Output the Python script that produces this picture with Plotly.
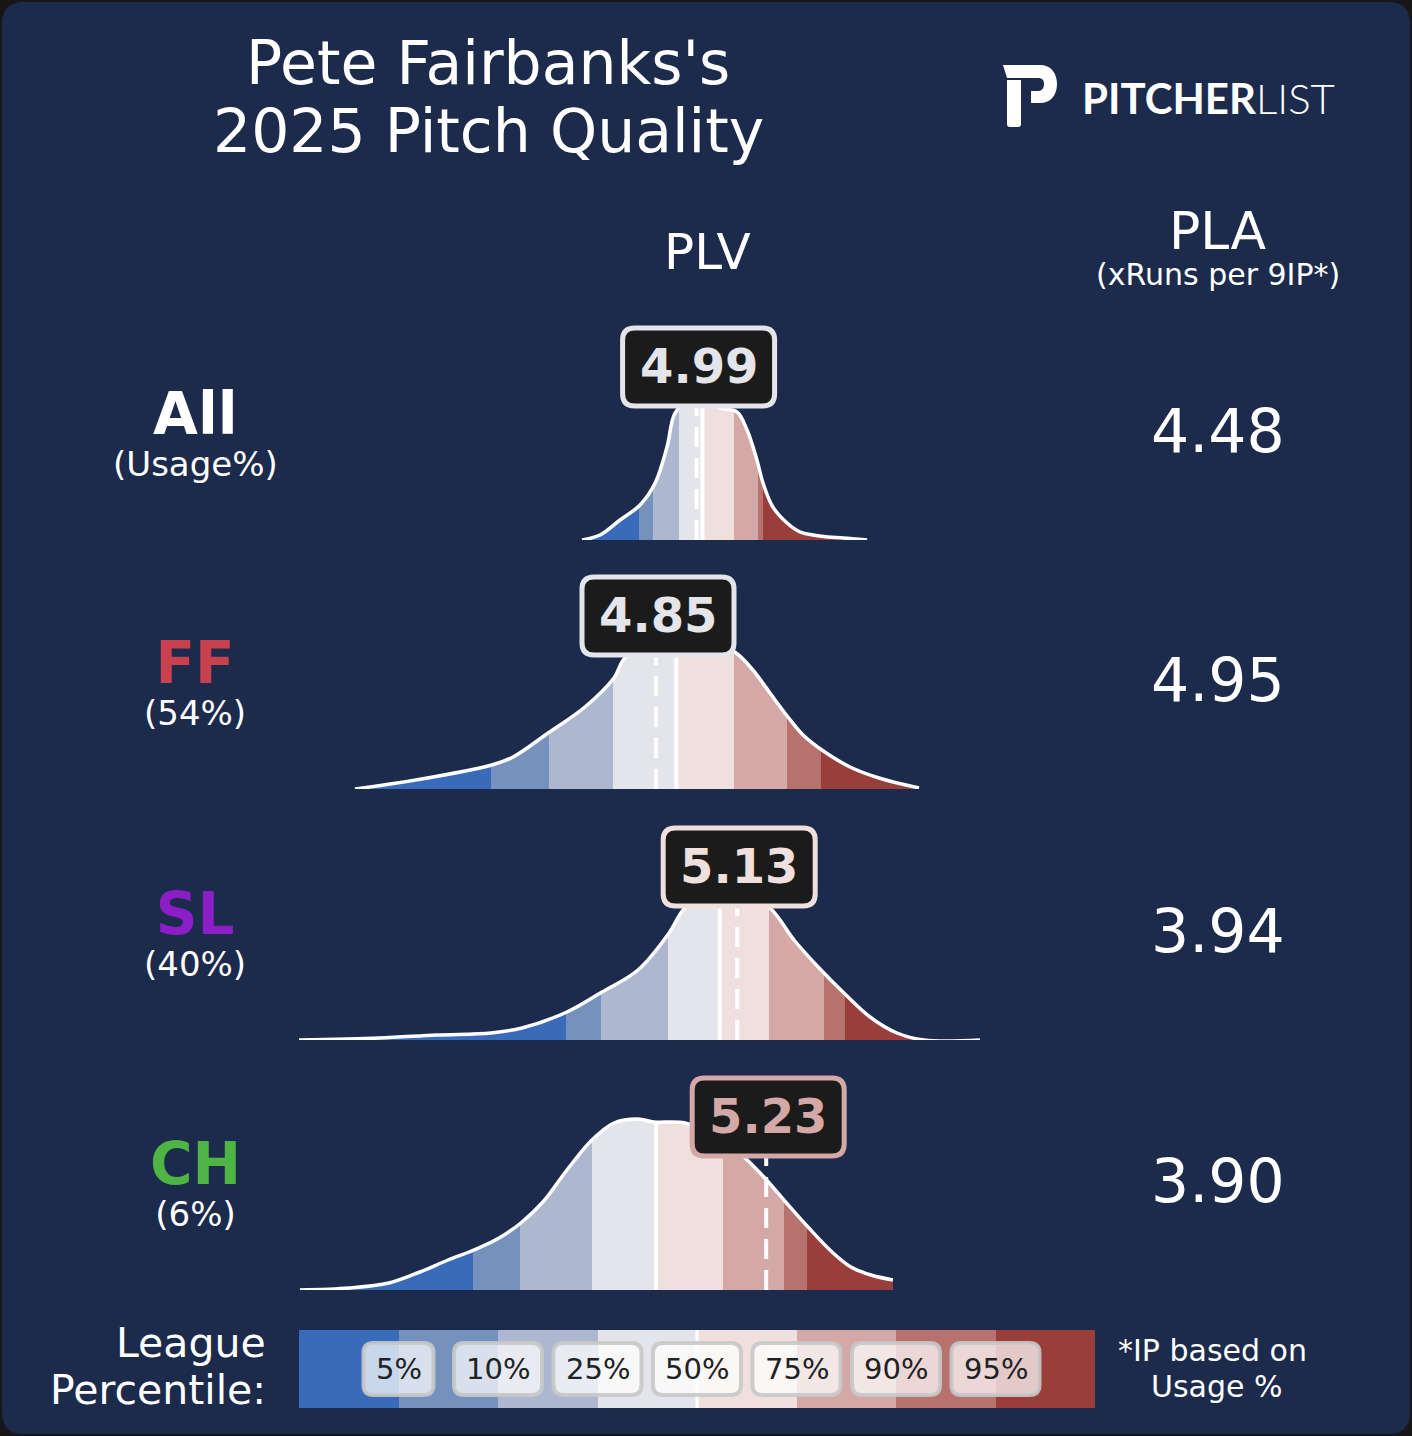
import re

import numpy as np
import plotly.graph_objects as go

W, H = 1412, 1436
BG = "#1c2a4c"
OUTER = "#171717"

# ---- data ----
pitches = ["All", "FF", "SL", "CH"]
usage = ["(Usage%)", "(54%)", "(40%)", "(6%)"]
pitch_colors = ["#ffffff", "#c9404f", "#8c1ec8", "#4eb544"]
plv = [4.99, 4.85, 5.13, 5.23]
pla = [4.48, 4.95, 3.94, 3.90]

pct_labels = ["5%", "10%", "25%", "50%", "75%", "90%", "95%"]
# league PLV percentiles (5, 10, 25, 50, 75, 90, 95) per pitch type
league_all = [4.79, 4.84, 4.93, 5.01, 5.12, 5.20, 5.22]
league_ff = [4.28, 4.48, 4.70, 4.92, 5.12, 5.30, 5.42]
league_sl = [4.54, 4.66, 4.89, 5.07, 5.24, 5.43, 5.50]
league_ch = [4.22, 4.38, 4.63, 4.85, 5.08, 5.29, 5.37]

# pitch-level PLV density curves
kde_x_all = [4.595, 4.657, 4.726, 4.795, 4.847, 4.888, 4.916, 4.967, 5.019, 5.071, 5.129,
             5.164, 5.198, 5.219, 5.253, 5.302, 5.347, 5.391, 5.443, 5.495, 5.578]
kde_y_all = [0.00, 0.05, 0.20, 0.35, 0.57, 0.93, 1.27, 1.40, 1.39, 1.32, 1.28,
             1.10, 0.80, 0.57, 0.33, 0.17, 0.08, 0.05, 0.03, 0.02, 0.00]

kde_x_ff = [3.812, 4.022, 4.284, 4.357, 4.478, 4.605, 4.705, 4.743, 4.850, 4.933,
            5.036, 5.126, 5.184, 5.243, 5.305, 5.357, 5.422, 5.519, 5.619, 5.757]
kde_y_ff = [0.00, 0.09, 0.24, 0.32, 0.56, 0.82, 1.11, 1.31, 1.47, 1.52,
            1.48, 1.36, 1.19, 0.96, 0.72, 0.54, 0.39, 0.22, 0.11, 0.01]

kde_x_sl = [3.619, 3.895, 4.095, 4.281, 4.388, 4.543, 4.664, 4.788, 4.895, 4.943,
            5.020, 5.120, 5.243, 5.326, 5.419, 5.498, 5.588, 5.681, 5.774, 5.967]
kde_y_sl = [0.00, 0.02, 0.05, 0.07, 0.12, 0.28, 0.48, 0.70, 1.07, 1.30,
            1.50, 1.52, 1.32, 1.00, 0.70, 0.47, 0.23, 0.07, 0.00, 0.00]

kde_x_ch = [3.622, 3.791, 3.929, 4.036, 4.133, 4.222, 4.309, 4.384, 4.460, 4.543, 4.629, 4.705,
            4.788, 4.843, 4.950, 5.071, 5.157, 5.222, 5.291, 5.374, 5.457, 5.522, 5.591, 5.667]
kde_y_ch = [0.00, 0.02, 0.07, 0.18, 0.30, 0.40, 0.52, 0.67, 0.88, 1.20, 1.50, 1.67,
            1.71, 1.68, 1.67, 1.52, 1.32, 1.13, 0.90, 0.63, 0.38, 0.23, 0.15, 0.10]

band_colors = ["#3a6bbb", "#7591bd", "#adb8d0", "#e4e5ea",
               "#f0e0dd", "#d3a8a6", "#b7726e", "#9a3e3c"]

leagues = [league_all, league_ff, league_sl, league_ch]
kdes = [(kde_x_all, kde_y_all), (kde_x_ff, kde_y_ff), (kde_x_sl, kde_y_sl), (kde_x_ch, kde_y_ch)]

# ---- layout constants (pixels) ----
baselines = [540, 789, 1040, 1290]
ROW_H = 240
YTOP = 2.4
LABEL_Y = 1.34
XDOM = (280, 1010)
PX_PER_UNIT = 290
REF_PX, REF_VAL = 656, 4.85
x_lo = REF_VAL - (REF_PX - XDOM[0]) / PX_PER_UNIT
x_hi = REF_VAL + (XDOM[1] - REF_PX) / PX_PER_UNIT
MASK_PAD = 0.03


def rrect(x0, y0, x1, y1, r):
    return (f"M{x0+r},{y0} L{x1-r},{y0} Q{x1},{y0} {x1},{y0+r} L{x1},{y1-r} "
            f"Q{x1},{y1} {x1-r},{y1} L{x0+r},{y1} Q{x0},{y1} {x0},{y1-r} "
            f"L{x0},{y0+r} Q{x0},{y0} {x0+r},{y0} Z")


def img_path(p):
    # image pixel coords (y down) -> pixel offsets from top-left (y up)
    return re.sub(r"(-?\d+(?:\.\d+)?),(-?\d+(?:\.\d+)?)",
                  lambda m: f"{m.group(1)},{-float(m.group(2)):g}", p)


def note(x, y, text, size, color="white", bold=False, xanchor="center", family="DejaVu Sans"):
    return dict(x=x / W, y=1 - y / H, xref="paper", yref="paper",
                text=f"<b>{text}</b>" if bold else text, showarrow=False,
                xanchor=xanchor, yanchor="middle",
                font=dict(family=family, size=size, color=color))


fig = go.Figure()
shapes = []
annotations = []
layout_axes = {}

for i, (league, (kx, ky)) in enumerate(zip(leagues, kdes)):
    k = i + 1
    xa = "x" if k == 1 else f"x{k}"
    ya = "y" if k == 1 else f"y{k}"
    base = baselines[i]
    layout_axes["xaxis" if k == 1 else f"xaxis{k}"] = dict(
        domain=[XDOM[0] / W, XDOM[1] / W], range=[x_lo, x_hi], anchor=ya, visible=False, fixedrange=True)
    layout_axes["yaxis" if k == 1 else f"yaxis{k}"] = dict(
        domain=[1 - base / H, 1 - (base - ROW_H) / H], range=[0, YTOP], anchor=xa, visible=False, fixedrange=True)

    edges = np.array([kx[0]] + league + [kx[-1]])
    fig.add_trace(go.Bar(x=(edges[:-1] + edges[1:]) / 2, y=[YTOP] * 8, width=np.diff(edges),
                         marker=dict(color=band_colors, line=dict(width=0)),
                         xaxis=xa, yaxis=ya, hoverinfo="skip", showlegend=False))
    # league median
    fig.add_trace(go.Scatter(x=[league[3], league[3]], y=[0, YTOP], mode="lines",
                             line=dict(color="white", width=4), xaxis=xa, yaxis=ya,
                             hoverinfo="skip", showlegend=False))
    # mask above the density curve
    fig.add_trace(go.Scatter(x=[kx[0] - MASK_PAD, kx[-1] + MASK_PAD], y=[YTOP, YTOP], mode="lines",
                             line=dict(width=0), xaxis=xa, yaxis=ya,
                             hoverinfo="skip", showlegend=False))
    fig.add_trace(go.Scatter(x=kx, y=ky, mode="lines", fill="tonexty", fillcolor=BG,
                             line=dict(color="white", width=3.5, shape="spline", smoothing=1),
                             xaxis=xa, yaxis=ya, hoverinfo="skip", showlegend=False))
    # pitcher PLV
    fig.add_trace(go.Scatter(x=[plv[i], plv[i]], y=[0, LABEL_Y + 0.2], mode="lines",
                             line=dict(color="white", width=4, dash="20px,11px"),
                             xaxis=xa, yaxis=ya, hoverinfo="skip", showlegend=False))

    c = band_colors[int(np.searchsorted(league, plv[i]))]
    shapes.append(dict(type="path", xref=xa, yref=ya, xsizemode="pixel", ysizemode="pixel",
                       xanchor=plv[i], yanchor=LABEL_Y, path=rrect(-74, 0, 78, 78, 12),
                       fillcolor="#1b1b1b", line=dict(color=c, width=5), layer="above"))
    annotations.append(dict(x=plv[i], y=LABEL_Y, xref=xa, yref=ya, yshift=40, xshift=2,
                            text=f"<b>{plv[i]:.2f}</b>", showarrow=False, yanchor="middle",
                            font=dict(family="DejaVu Sans", size=48, color=c)))

    # row labels and PLA
    cy = base - 129
    annotations.append(dict(
        x=195 / W, y=1 - (cy + 21) / H, xref="paper", yref="paper", showarrow=False,
        xanchor="center", yanchor="middle",
        text=(f"<span style='font-size:58px;color:{pitch_colors[i]}'><b>{pitches[i]}</b></span>"
              f"<br><span style='font-size:34px'>{usage[i]}</span>"),
        font=dict(family="DejaVu Sans", size=32, color="white")))
    annotations.append(note(1218, cy + 20, f"{pla[i]:.2f}", 60))

# ---- league percentile colour bar ----
layout_axes["xaxis5"] = dict(domain=[299 / W, 1095 / W], range=[0, 8], anchor="y5",
                             visible=False, fixedrange=True)
layout_axes["yaxis5"] = dict(domain=[1 - 1408 / H, 1 - 1330 / H], range=[0, 1], anchor="x5",
                             visible=False, fixedrange=True)
fig.add_trace(go.Bar(x=np.arange(8) + 0.5, y=[1] * 8, width=1,
                     marker=dict(color=band_colors, line=dict(width=0)),
                     xaxis="x5", yaxis="y5", hoverinfo="skip", showlegend=False))
fig.add_trace(go.Scatter(x=[4, 4], y=[0, 1], mode="lines", line=dict(color="white", width=3),
                         xaxis="x5", yaxis="y5", hoverinfo="skip", showlegend=False))
for j, lab in enumerate(pct_labels):
    bw = 70 if len(lab) == 2 else 88
    shapes.append(dict(type="path", xref="x5", yref="y5", xsizemode="pixel", ysizemode="pixel",
                       xanchor=j + 1, yanchor=0.5, path=rrect(-bw / 2, -26, bw / 2, 26, 10),
                       fillcolor="rgba(255,255,255,0.72)", line=dict(color="rgba(200,200,200,0.9)", width=4),
                       layer="above"))
    annotations.append(dict(x=j + 1, y=0.5, xref="x5", yref="y5", text=lab, showarrow=False,
                            font=dict(family="DejaVu Sans", size=29, color="#222222")))

# ---- background panel and logo ----
shapes.insert(0, dict(type="path", xref="paper", yref="paper", xsizemode="pixel", ysizemode="pixel",
                      xanchor=0, yanchor=1, path=rrect(2, -1434, 1410, -2, 22),
                      fillcolor=BG, line=dict(width=0), layer="below"))
logo_p = img_path("M1003,65 L1040,65 C1051,65 1057,73 1057,84 C1057,96 1050,103 1040,103 "
                  "L1031,103 L1031,91 L1038,91 C1042,91 1044,88 1044,84 C1044,80 1042,78 1038,78 "
                  "L1007,78 Z M1007,80 L1021,80 L1021,124 Q1021,127 1018,127 L1010,127 "
                  "Q1007,127 1007,124 Z")
shapes.append(dict(type="path", xref="paper", yref="paper", xsizemode="pixel", ysizemode="pixel",
                   xanchor=0, yanchor=1, path=logo_p, fillcolor="white", line=dict(width=0),
                   layer="above"))

annotations += [
    note(488, 63, "Pete Fairbanks's", 60),
    note(488, 131, "2025 Pitch Quality", 60),
    dict(x=1080 / W, y=1 - 98 / H, xref="paper", yref="paper", text="<b>PITCHER</b>LIST",
         showarrow=False, xanchor="left", yanchor="middle",
         font=dict(family="Lato", size=42, color="white", weight=300)),
    note(707, 252, "PLV", 50),
    note(1218, 231, "PLA", 52),
    note(1218, 274, "(xRuns per 9IP*)", 30),
    note(268, 1343, "League", 41, xanchor="right"),
    note(268, 1390, "Percentile:", 41, xanchor="right"),
    note(1212, 1350, "*IP based on", 30),
    note(1217, 1386, "Usage %", 30),
]

fig.update_layout(
    width=W, height=H, margin=dict(l=0, r=0, t=0, b=0),
    paper_bgcolor=OUTER, plot_bgcolor="rgba(0,0,0,0)",
    showlegend=False, hovermode=False, bargap=0,
    shapes=shapes, annotations=annotations, **layout_axes,
)

fig.write_html("out.html", config={"displayModeBar": False},
               post_script="document.body.style.margin = '0';")
